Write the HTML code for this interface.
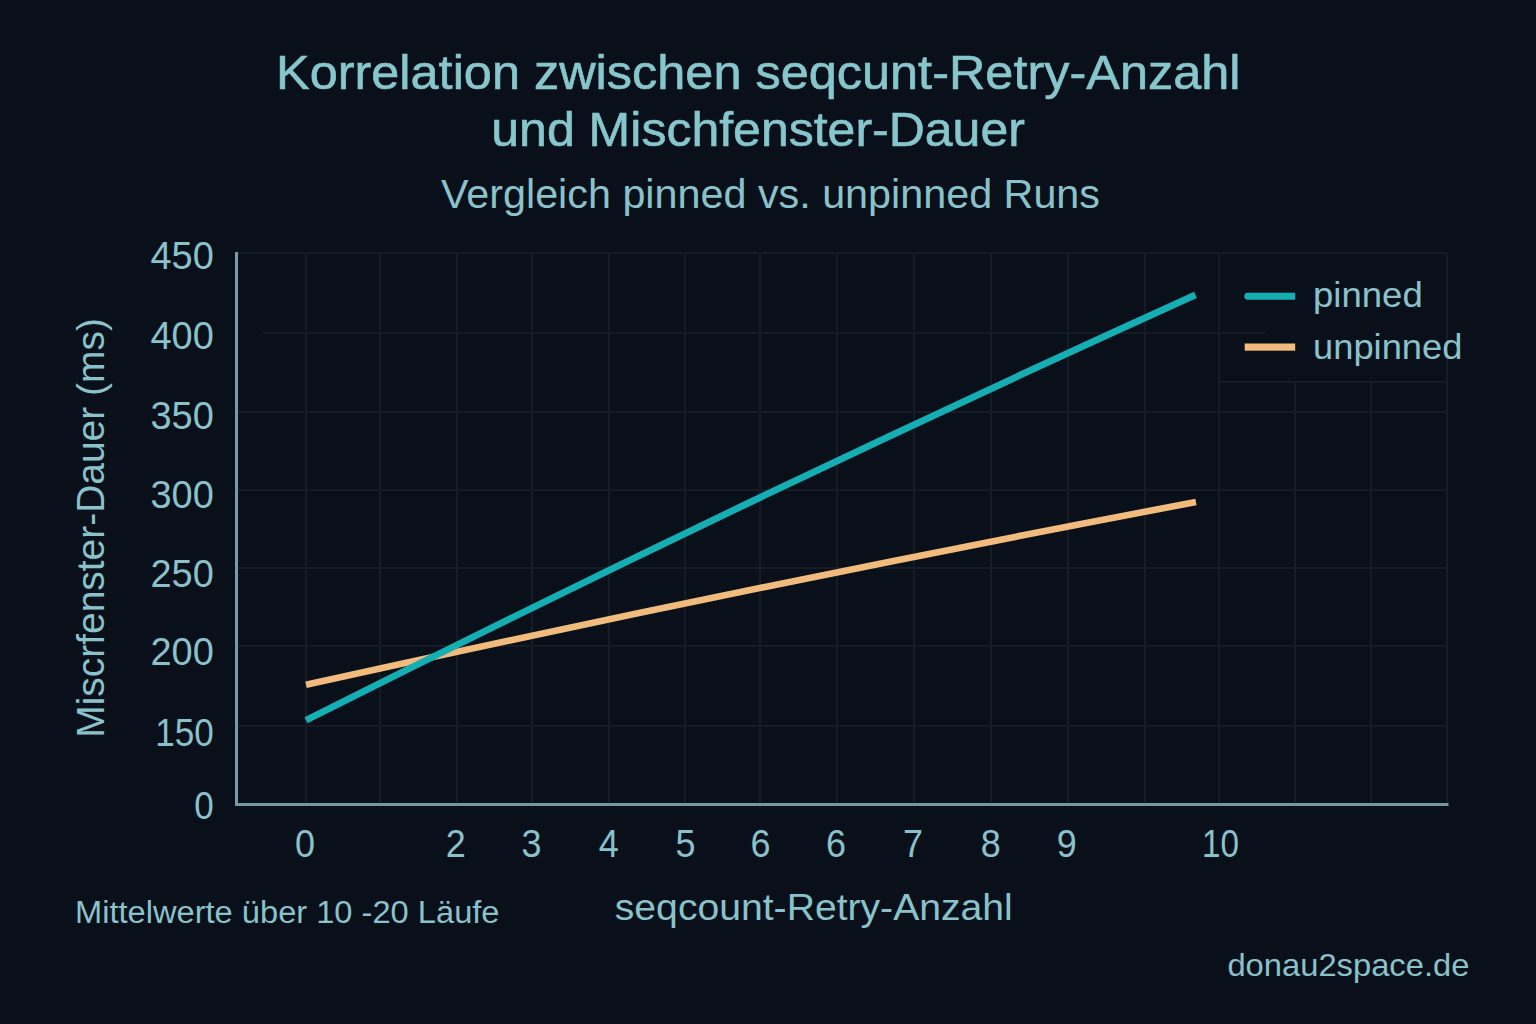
<!DOCTYPE html>
<html>
<head>
<meta charset="utf-8">
<style>
html,body{margin:0;padding:0;background:#0a1019;width:1536px;height:1024px;overflow:hidden;}
svg{display:block;}
text{font-family:"Liberation Sans", sans-serif;fill:#8ac2cc;}
.t{font-size:48px;fill:#86c6cc;stroke:#86c6cc;stroke-width:0.6px;}
.st{font-size:38px;}
.yl{font-size:39px;text-anchor:end;}
.xl{font-size:39px;text-anchor:middle;}
.lg{font-size:35px;}
</style>
</head>
<body>
<svg width="1536" height="1024" viewBox="0 0 1536 1024">
  <rect x="0" y="0" width="1536" height="1024" fill="#0a1019"/>
  <!-- title -->
  <text class="t" x="276" y="88.8" textLength="964.5" lengthAdjust="spacingAndGlyphs">Korrelation zwischen seqcunt-Retry-Anzahl</text>
  <text class="t" x="491.3" y="145.8" textLength="533.6" lengthAdjust="spacingAndGlyphs">und Mischfenster-Dauer</text>
  <text class="st" style="font-size:40px" x="441" y="207.8" textLength="659" lengthAdjust="spacingAndGlyphs">Vergleich pinned vs. unpinned Runs</text>

  <!-- grid -->
  <g stroke="#151c26" stroke-width="2" fill="none">
    <path d="M306 253V803 M380 253V803 M457 253V803 M532 253V803 M609 253V803 M685 253V803 M760 253V803 M837 253V803 M914 253V803 M991 253V803 M1068 253V803 M1145 253V803 M1219 253V803"/>
    <path d="M1295 382V803 M1371 382V803 M1447 253V803"/>
    <path d="M237 253H1447 M262 333H1266 M1219 382H1447 M237 412H1447 M237 490H1447 M237 568H1447 M237 646H1447 M237 726H1447"/>
  </g>
  <!-- axes -->
  <path d="M236.5 252V806" stroke="#7a98a5" stroke-width="3" fill="none"/>
  <path d="M235 804.5H1448.5" stroke="#74989e" stroke-width="3" fill="none"/>

  <!-- y labels -->
  <text class="yl" x="213.8" y="268.7" textLength="63.3" lengthAdjust="spacingAndGlyphs">450</text>
  <text class="yl" x="213.8" y="349" textLength="63.3" lengthAdjust="spacingAndGlyphs">400</text>
  <text class="yl" x="213.8" y="429" textLength="63.3" lengthAdjust="spacingAndGlyphs">350</text>
  <text class="yl" x="213.8" y="507.8" textLength="63.3" lengthAdjust="spacingAndGlyphs">300</text>
  <text class="yl" x="213.8" y="586.5" textLength="63.3" lengthAdjust="spacingAndGlyphs">250</text>
  <text class="yl" x="213.8" y="665" textLength="63.3" lengthAdjust="spacingAndGlyphs">200</text>
  <text class="yl" x="213.8" y="745.8" textLength="58.6" lengthAdjust="spacingAndGlyphs">150</text>
  <text class="yl" x="213.8" y="819" textLength="19.5" lengthAdjust="spacingAndGlyphs">0</text>

  <!-- x labels -->
  <text class="xl" x="305" y="857" textLength="20" lengthAdjust="spacingAndGlyphs">0</text>
  <text class="xl" x="455.8" y="857" textLength="20" lengthAdjust="spacingAndGlyphs">2</text>
  <text class="xl" x="531.5" y="857" textLength="20" lengthAdjust="spacingAndGlyphs">3</text>
  <text class="xl" x="608.7" y="857" textLength="20" lengthAdjust="spacingAndGlyphs">4</text>
  <text class="xl" x="685.4" y="857" textLength="20" lengthAdjust="spacingAndGlyphs">5</text>
  <text class="xl" x="760.4" y="857" textLength="20" lengthAdjust="spacingAndGlyphs">6</text>
  <text class="xl" x="836" y="857" textLength="20" lengthAdjust="spacingAndGlyphs">6</text>
  <text class="xl" x="913" y="857" textLength="20" lengthAdjust="spacingAndGlyphs">7</text>
  <text class="xl" x="990.8" y="857" textLength="20" lengthAdjust="spacingAndGlyphs">8</text>
  <text class="xl" x="1066.7" y="857" textLength="20" lengthAdjust="spacingAndGlyphs">9</text>
  <text class="xl" x="1220.5" y="857" textLength="37" lengthAdjust="spacingAndGlyphs">10</text>

  <!-- y title -->
  <text class="st" transform="translate(103.5,737.8) rotate(-90)" x="0" y="0" textLength="419.7" lengthAdjust="spacingAndGlyphs">Miscrfenster-Dauer (ms)</text>

  <!-- x title -->
  <text style="font-size:36px" x="614.8" y="920" textLength="398" lengthAdjust="spacingAndGlyphs">seqcount-Retry-Anzahl</text>
  <text style="font-size:31px" x="75" y="922.8" textLength="424.5" lengthAdjust="spacingAndGlyphs">Mittelwerte über 10 -20 Läufe</text>
  <text style="font-size:32px" x="1227.4" y="975.5" textLength="242" lengthAdjust="spacingAndGlyphs">donau2space.de</text>

  <!-- data lines -->
  <path d="M306 684.7Q750.5 586.4 1196 502" stroke="#f0bb7c" stroke-width="6.6" fill="none"/>
  <path d="M306 720.2Q750.5 496.5 1195.5 294.8" stroke="#14aeb3" stroke-width="6.8" fill="none"/>

  <!-- legend -->
  <path d="M1295.2 292.8H1247.8A3.5 3.5 0 0 0 1247.8 299.8H1295.2Z" fill="#14aeb3"/>
  <rect x="1244.7" y="343.5" width="50.5" height="7.2" fill="#f0bb7c"/>
  <text class="lg" x="1313" y="307.4" textLength="109.7" lengthAdjust="spacingAndGlyphs">pinned</text>
  <text class="lg" x="1313" y="359.4" textLength="149.4" lengthAdjust="spacingAndGlyphs">unpinned</text>
</svg>
</body>
</html>
